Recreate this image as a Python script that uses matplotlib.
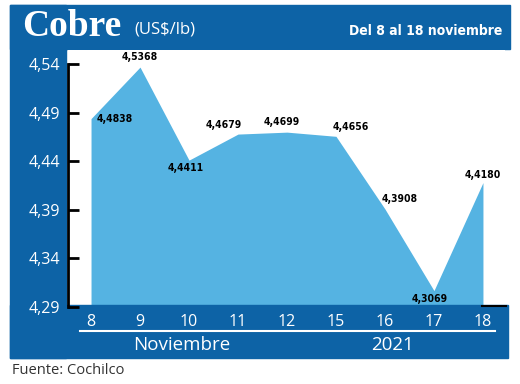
import matplotlib.pyplot as plt
from matplotlib.patches import Rectangle
from matplotlib import font_manager

dias = ['8', '9', '10', '11', '12', '15', '16', '17', '18']
precios = [4.4838, 4.5368, 4.4411, 4.4679, 4.4699, 4.4656, 4.3908, 4.3069, 4.4180]
etiquetas = ['4,4838', '4,5368', '4,4411', '4,4679', '4,4699', '4,4656', '4,3908', '4,3069', '4,4180']
yticks = [4.29, 4.34, 4.39, 4.44, 4.49, 4.54]
yticklabels = ['4,29', '4,34', '4,39', '4,44', '4,49', '4,54']

azul = '#0d63a6'
celeste = '#55b3e2'
W, H = 520, 384

def fx(px):
    return px / W

def fy(py):
    return 1 - py / H

fig = plt.figure(figsize=(5.2, 3.84), dpi=100)

# marco azul (cabecera + franja izquierda)
fig.patches.append(Rectangle((fx(10), fy(358)), fx(56), (358 - 5) / H,
                             transform=fig.transFigure, color=azul, zorder=-2))
fig.patches.append(Rectangle((fx(10), fy(49)), fx(500), 44 / H,
                             transform=fig.transFigure, color=azul, zorder=-2))

ax = fig.add_axes([fx(68), fy(307), fx(505 - 68), (307 - 50) / H])
ax.set_axisbelow(False)
x = list(range(len(dias)))
ax.fill_between(x, precios, 4.29, color=celeste, lw=0, zorder=1)
ax.set_xlim(-0.47, 8.45)
ax.set_ylim(4.29, 4.29 + (307 - 50) / 972)

for s in ['top', 'right', 'bottom']:
    ax.spines[s].set_visible(False)
ax.spines['left'].set_bounds(4.29, 4.54)
ax.spines['left'].set_linewidth(2)
ax.spines['left'].set_color('black')

ax.set_yticks(yticks)
ax.set_yticklabels(yticklabels, family='Open Sans', fontsize=11.5, color='white')
ax.tick_params(axis='y', direction='in', length=8, width=2, pad=6)
ax.set_xticks(x)
ax.set_xticklabels(dias, family='Open Sans', fontsize=11.5, color='white')
ax.tick_params(axis='x', length=0, pad=5)

# franja inferior azul
ax.add_patch(Rectangle((fx(10), fy(358)), fx(498), (358 - 305) / H,
                       transform=fig.transFigure, color=azul, zorder=2.2, clip_on=False))
ax.plot([fx(80), fx(495)], [fy(331), fy(331)], transform=fig.transFigure,
        color='white', lw=1.5, clip_on=False, zorder=2.3)
ax.plot([fx(482), fx(506)], [fy(306), fy(306)], transform=fig.transFigure,
        color='black', lw=1.5, clip_on=False, zorder=2.3)

# fuente estrecha para las cifras
narrow = font_manager.FontProperties(family='DejaVu Sans', stretch='condensed',
                                     weight='bold', size=7.5)

offsets = [(6, 0, 'left'), (0, 10, 'center'), (-3, -8, 'center'), (-14, 9, 'center'),
           (-5, 10, 'center'), (-3, 9, 'left'), (15, 10, 'center'), (-4, -8, 'center'),
           (0, 8, 'center')]
for xi, yi, t, (dx, dy, ha) in zip(x, precios, etiquetas, offsets):
    ax.annotate(t, (xi, yi), xytext=(dx, dy), textcoords='offset pixels',
                ha=ha, va='center', fontproperties=narrow, color='black')

fig.text(fx(182), fy(345), 'Noviembre', ha='center', va='center',
         family='Open Sans', fontsize=13.5, color='white')
fig.text(fx(393), fy(345), '2021', ha='center', va='center',
         family='Open Sans', fontsize=13.5, color='white')

fig.text(fx(22), fy(27), 'Cobre', ha='left', va='center', family='Liberation Serif',
         fontweight='bold', fontsize=27, color='white')
fig.text(fx(134), fy(29), '(US$/lb)', ha='left', va='center', family='Open Sans',
         fontsize=12, color='white')
titulo = font_manager.FontProperties(family='DejaVu Sans', stretch='condensed',
                                     weight='bold', size=10)
fig.text(fx(502), fy(31), 'Del 8 al 18 noviembre', ha='right', va='center',
         fontproperties=titulo, color='white')

fig.text(fx(12), fy(370), 'Fuente: Cochilco', ha='left', va='center',
         family='Open Sans', fontsize=10.5, color='#333333')

fig.savefig('out.png', dpi=100)
